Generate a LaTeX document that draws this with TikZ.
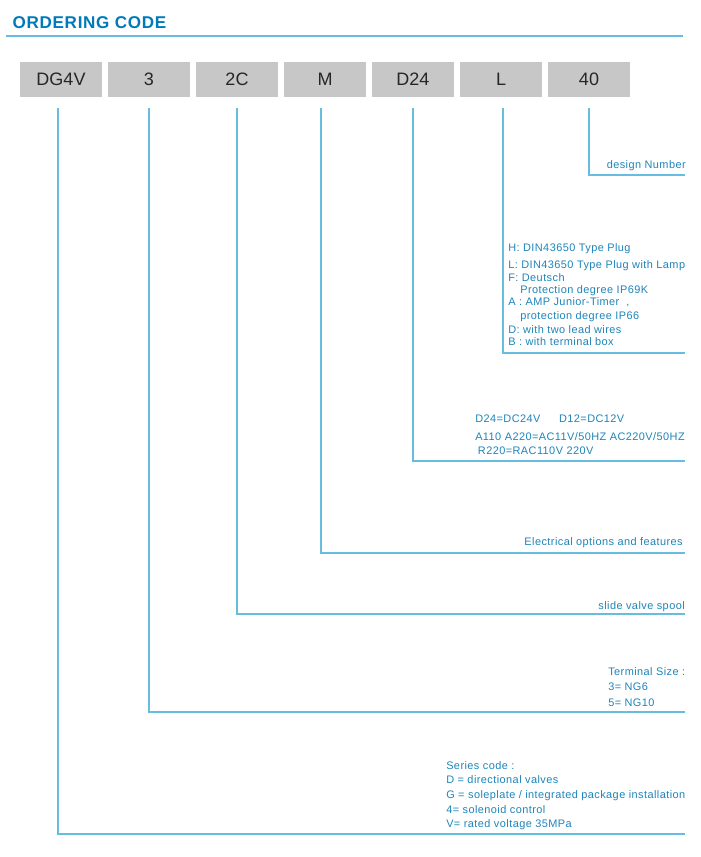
\documentclass[tikz,border=0pt]{standalone}
\usepackage{fontspec}
\setmainfont{Liberation Sans}
\newfontfamily\notefont[LetterSpace=4]{Liberation Sans}
\newfontfamily\headfont[LetterSpace=4]{Liberation Sans}
\usepackage{tikz}
\usetikzlibrary{positioning}
\definecolor{codeblue}{RGB}{0,122,186}
\definecolor{linkblue}{RGB}{104,188,224}
\definecolor{noteblue}{RGB}{28,132,186}
\definecolor{boxgray}{RGB}{199,199,199}

\begin{document}
\begin{tikzpicture}[x=0.75pt,y=-0.75pt,
  codebox/.style={fill=boxgray,minimum width=61.5pt,minimum height=26.25pt,inner sep=0pt,outer sep=0pt,
    font=\fontsize{13.5}{16}\selectfont,text=black!85},
  link/.style={linkblue,line width=0.9pt},
  note/.style={text=noteblue,inner sep=0pt,align=left}]
\useasboundingbox (0,0) rectangle (700,857);
% heading
\node[anchor=base west,text=codeblue,font=\headfont\bfseries\fontsize{12.8}{16}\selectfont] (title) at (8,28) {ORDERING CODE};
\draw[link] (6,36) -- (683,36);
% code boxes
\node[codebox] (series) at (61,79.5) {DG4V};
\node[codebox,right=4.5pt of series] (size) {3};
\node[codebox,right=4.5pt of size] (spool) {2C};
\node[codebox,right=4.5pt of spool] (elec) {M};
\node[codebox,right=4.5pt of elec] (volt) {D24};
\node[codebox,right=4.5pt of volt] (plug) {L};
\node[codebox,right=4.5pt of plug] (design) {40};
% line ends
\coordinate (e7) at (685,175);
\coordinate (e6) at (685,353);
\coordinate (e5) at (685,461);
\coordinate (e4) at (685,553);
\coordinate (e3) at (685,614);
\coordinate (e2) at (685,712);
\coordinate (e1) at (685,834);
\draw[link] ([yshift=-8pt]design.south) |- (e7);
\draw[link] ([yshift=-8pt,xshift=1.5pt]plug.south) |- (e6);
\draw[link] ([yshift=-8pt]volt.south) |- (e5);
\draw[link] ([yshift=-8pt,xshift=-3pt]elec.south) |- (e4);
\draw[link] ([yshift=-8pt]spool.south) |- (e3);
\draw[link] ([yshift=-8pt]size.south) |- (e2);
\draw[link] ([yshift=-8pt,xshift=-2.25pt]series.south) |- (e1);
% notes
\node[note,anchor=base east,font=\notefont\fontsize{8.2}{9.4}\selectfont] (designtxt) at (686,168) {design Number};
\node[note,anchor=north west,font=\notefont\fontsize{8.2}{9.3}\selectfont] (plugtxt) at (508,243.5) {H: DIN43650 Type Plug\\[3.5pt]
L: DIN43650 Type Plug with Lamp\\
F: Deutsch\\
\hspace*{9pt}Protection degree IP69K\\
A : AMP Junior-Timer~~,\\[1pt]
\hspace*{9pt}protection degree IP66\\[0.8pt]
D: with two lead wires\\
B : with terminal box};
\node[note,anchor=north west,font=\notefont\fontsize{8.2}{10.5}\selectfont] (volttxt) at (475,415) {D24=DC24V\hspace{14pt}D12=DC12V\\[3pt]
A110 A220=AC11V/50HZ AC220V/50HZ\\
\hspace*{2pt}R220=RAC110V 220V};
\node[note,anchor=base east,font=\notefont\fontsize{8.2}{9.4}\selectfont] (electxt) at (683,545) {Electrical options and features};
\node[note,anchor=base east,font=\notefont\fontsize{8.2}{9.4}\selectfont] (spooltxt) at (685,609) {slide valve spool};
\node[note,anchor=north west,font=\notefont\fontsize{8.2}{11.6}\selectfont] (sizetxt) at (608,667) {Terminal Size :\\
3= NG6\\
5= NG10};
\node[note,anchor=north west,font=\notefont\fontsize{8.2}{11}\selectfont] (seriestxt) at (446,761) {Series code :\\
D = directional valves\\
G = soleplate / integrated package installation\\
4= solenoid control\\
V= rated voltage 35MPa};
\end{tikzpicture}
\end{document}
